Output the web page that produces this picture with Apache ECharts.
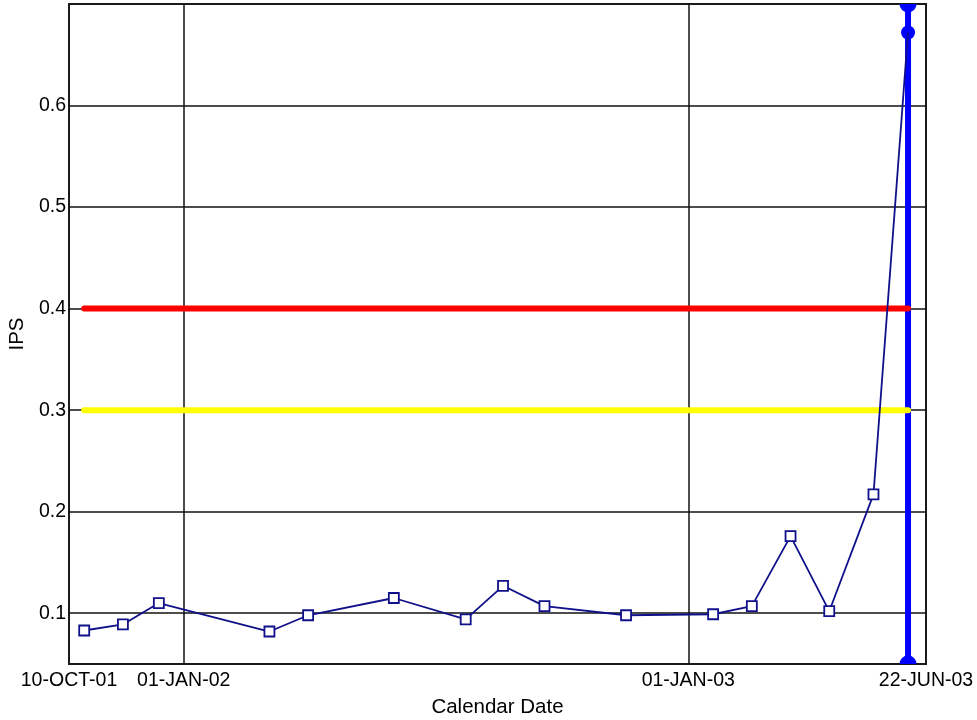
<!DOCTYPE html>
<html>
<head>
<meta charset="utf-8">
<script src="https://cdn.jsdelivr.net/npm/echarts@6/dist/echarts.min.js"></script>
<style>
  html, body { margin: 0; padding: 0; background: #fff; }
  #chart { width: 977px; height: 720px; }
</style>
</head>
<body>
<div id="chart"></div>
<script>
// Measurement dates (UTC, year, month 1-12, day)
const dates = [
  [2001, 10, 21], [2001, 11, 18], [2001, 12, 14],
  [2002, 3, 4], [2002, 4, 1], [2002, 6, 2], [2002, 7, 24],
  [2002, 8, 20], [2002, 9, 19], [2002, 11, 17],
  [2003, 1, 19], [2003, 2, 16], [2003, 3, 16], [2003, 4, 13],
  [2003, 5, 15], [2003, 6, 9]
];
// Vibration level, IPS
const ips = [
  0.083, 0.089, 0.110, 0.082, 0.098, 0.115, 0.094, 0.127, 0.107, 0.098,
  0.099, 0.107, 0.176, 0.102, 0.217, 0.672
];
// Alarm levels
const alertLevel = 0.3;
const dangerLevel = 0.4;
// Axis extents and labelled ticks
const xStart = [2001, 10, 10];
const xEnd = [2003, 6, 22];
const xTickDates = [[2001, 10, 10], [2002, 1, 1], [2003, 1, 1], [2003, 6, 22]];
const xGridDates = [[2002, 1, 1], [2003, 1, 1]];
const yMin = 0.05;
const yMax = 0.7;
const yTicks = [0.1, 0.2, 0.3, 0.4, 0.5, 0.6];

const ts = d => Date.UTC(d[0], d[1] - 1, d[2]);
const MONTHS = ['JAN','FEB','MAR','APR','MAY','JUN','JUL','AUG','SEP','OCT','NOV','DEC'];
function fmtDate(v) {
  const d = new Date(v);
  const dd = String(d.getUTCDate()).padStart(2, '0');
  const yy = String(d.getUTCFullYear() % 100).padStart(2, '0');
  return dd + '-' + MONTHS[d.getUTCMonth()] + '-' + yy;
}

const times = dates.map(ts);
const lastT = times[times.length - 1];
const firstT = times[0];
const lastV = ips[ips.length - 1];
const trend = times.map((t, i) => ({
  value: [t, ips[i]],
  symbol: i === times.length - 1 ? 'none' : 'rect'
}));

const FONT = 'Liberation Sans, Arial, sans-serif';
const BLUE = '#0000ff';
const chart = echarts.init(document.getElementById('chart'), null, { renderer: 'canvas' });

// Current-reading cursor: a vertical bar across the plot with end caps and a dot at the value
function renderCursor(params, api) {
  const t = api.value(0);
  const v = api.value(1);
  const top = api.coord([t, yMax]);
  const bottom = api.coord([t, yMin]);
  const at = api.coord([t, v]);
  return {
    type: 'group',
    children: [
      { type: 'line', shape: { x1: bottom[0], y1: bottom[1], x2: top[0], y2: top[1] },
        style: { stroke: BLUE, lineWidth: 6 } },
      { type: 'circle', shape: { cx: top[0], cy: top[1], r: 8.5 }, style: { fill: BLUE } },
      { type: 'circle', shape: { cx: bottom[0], cy: bottom[1], r: 8.5 }, style: { fill: BLUE } },
      { type: 'circle', shape: { cx: at[0], cy: at[1], r: 7 }, style: { fill: BLUE } }
    ]
  };
}

chart.setOption({
  animation: false,
  backgroundColor: '#fff',
  grid: {
    left: 69, right: 51, top: 4, bottom: 56,
    outerBoundsMode: 'none',
    containLabel: false,
    show: true, borderColor: '#1a1a1a', borderWidth: 2, backgroundColor: 'transparent'
  },
  xAxis: {
    type: 'value',
    min: ts(xStart),
    max: ts(xEnd),
    name: 'Calendar Date',
    nameLocation: 'middle',
    nameGap: 33,
    nameTextStyle: { color: '#000', fontSize: 20.5, fontFamily: FONT },
    axisLine: { show: false },
    axisTick: { show: false, customValues: xGridDates.map(ts) },
    axisLabel: {
      customValues: xTickDates.map(ts),
      formatter: v => fmtDate(v),
      color: '#000', fontSize: 19.5, fontFamily: FONT, margin: 7
    },
    splitLine: { show: true, lineStyle: { color: '#111', width: 1.5 } }
  },
  yAxis: {
    type: 'value',
    min: yMin,
    max: yMax,
    name: 'IPS',
    nameLocation: 'middle',
    nameGap: 40,
    nameRotate: 90,
    nameTextStyle: { color: '#000', fontSize: 20.5, fontFamily: FONT },
    axisLine: { show: false },
    axisTick: { show: false, customValues: yTicks },
    axisLabel: {
      customValues: yTicks,
      formatter: v => String(Math.round(v * 10) / 10),
      color: '#000', fontSize: 19.5, fontFamily: FONT, margin: 3
    },
    splitLine: { show: true, lineStyle: { color: '#111', width: 1.5 } }
  },
  series: [
    {
      name: 'Danger', type: 'line', symbol: 'none', silent: true,
      lineStyle: { color: '#ff0000', width: 6, cap: 'round' },
      data: [[firstT, dangerLevel], [lastT, dangerLevel]]
    },
    {
      name: 'Alert', type: 'line', symbol: 'none', silent: true,
      lineStyle: { color: '#ffff00', width: 6, cap: 'round' },
      data: [[firstT, alertLevel], [lastT, alertLevel]]
    },
    {
      name: 'IPS', type: 'line', symbol: 'rect', symbolSize: 10,
      lineStyle: { color: '#10108a', width: 1.8 },
      itemStyle: { color: '#fff', borderColor: '#10108a', borderWidth: 1.8 },
      data: trend
    },
    {
      name: 'Current', type: 'custom', clip: true, silent: true,
      renderItem: renderCursor,
      data: [[lastT, lastV]]
    }
  ]
});
</script>
</body>
</html>
